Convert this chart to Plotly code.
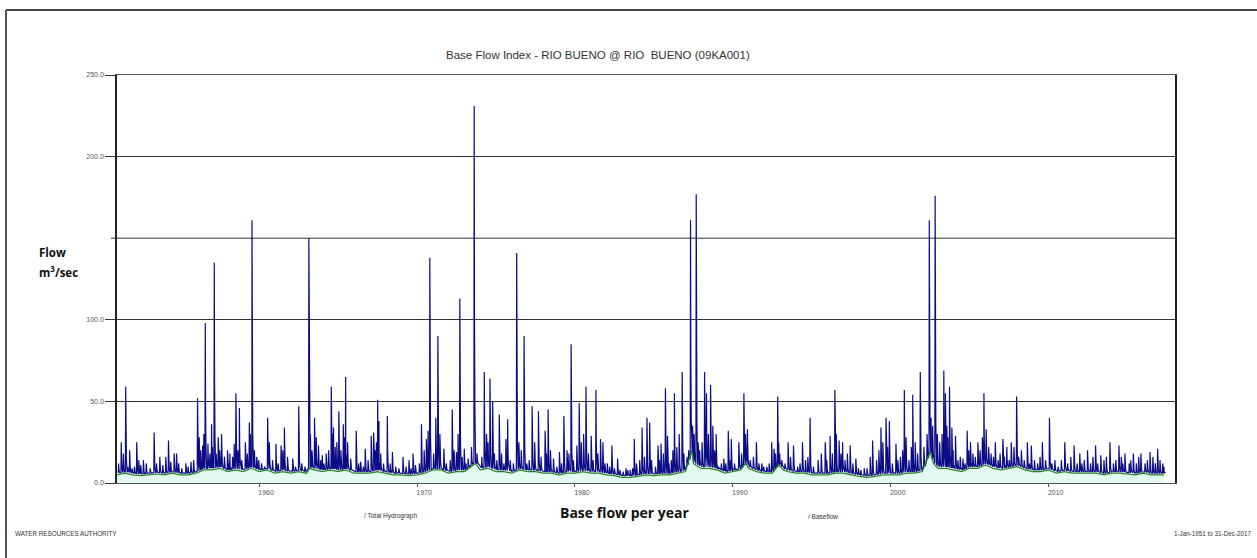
import numpy as np
import plotly.graph_objects as go

# ---- data (decimal years, m3/s) ----
peak_years = [
    1951.27, 1951.55, 1951.80, 1952.25, 1952.50, 1952.67, 1953.35, 1953.71, 1954.09, 1954.26,
    1954.62, 1954.77, 1955.36, 1955.68, 1956.10, 1956.21, 1956.42, 1956.59, 1956.76, 1956.99,
    1957.16, 1957.41, 1957.62, 1958.00, 1958.15, 1958.32, 1958.53, 1958.75, 1959.13, 1959.38,
    1959.55, 1959.97, 1960.54, 1961.07, 1961.39, 1961.60, 1962.13, 1962.51, 1963.15, 1963.51,
    1963.76, 1964.00, 1964.25, 1964.57, 1964.71, 1964.92, 1965.05, 1965.33, 1965.48, 1966.15,
    1966.43, 1966.72, 1967.10, 1967.25, 1967.51, 1967.59, 1968.12, 1968.44, 1969.11, 1969.49,
    1969.75, 1970.28, 1970.59, 1970.81, 1971.19, 1971.32, 1971.70, 1972.23, 1972.50, 1972.71,
    1972.99, 1973.24, 1973.62, 1974.26, 1974.62, 1974.79, 1975.21, 1975.63, 1975.74, 1976.31,
    1976.78, 1977.29, 1977.69, 1978.11, 1978.30, 1978.64, 1979.02, 1979.30, 1979.76, 1980.12,
    1980.27, 1980.70, 1981.03, 1981.33, 1981.62, 1981.77, 1982.34, 1982.70, 1983.23, 1983.50,
    1983.76, 1984.25, 1984.56, 1984.73, 1985.26, 1985.45, 1985.73, 1985.86, 1986.30, 1986.79,
    1987.32, 1987.68, 1988.21, 1988.33, 1988.59, 1988.73, 1988.94, 1989.27, 1989.43, 1989.71,
    1989.90, 1990.38, 1990.70, 1990.92, 1991.49, 1991.83, 1992.46, 1992.61, 1992.84, 1992.97,
    1993.50, 1993.84, 1994.41, 1994.89, 1995.40, 1995.85, 1996.16, 1996.46, 1996.73, 1996.95,
    1997.43, 1997.79, 1998.32, 1998.85, 1999.38, 1999.70, 1999.91, 2000.33, 2000.61, 2000.86,
    2000.97, 2001.39, 2001.87, 2002.44, 2002.81, 2003.36, 2003.46, 2003.72, 2003.87, 2004.10,
    2004.57, 2004.84, 2005.05, 2005.52, 2005.90, 2006.04, 2006.62, 2007.10, 2007.35, 2007.63,
    2007.97, 2008.27, 2008.65, 2008.90, 2009.60, 2010.05, 2010.39, 2011.02, 2011.61, 2011.97,
    2012.46, 2012.97, 2013.30, 2013.88, 2014.45, 2014.83, 2015.36, 2015.84, 2016.42, 2016.90,
    2017.22,
]
peak_flows = [
    25, 59, 20, 25, 11, 14, 31, 16, 16, 26,
    18, 18, 12, 13, 52, 28, 23, 98, 24, 36,
    135, 28, 30, 20, 18, 16, 55, 46, 25, 37,
    161, 14, 40, 24, 23, 34, 15, 47, 150, 40,
    23, 17, 18, 59, 34, 25, 44, 36, 65, 32,
    13, 21, 29, 31, 51, 38, 41, 19, 16, 14,
    18, 36, 27, 138, 40, 90, 21, 45, 19, 113,
    21, 15, 231, 68, 64, 50, 42, 27, 39, 141,
    90, 47, 44, 32, 45, 15, 19, 41, 85, 23,
    49, 59, 29, 57, 27, 25, 23, 15, 9, 8,
    27, 34, 40, 37, 23, 24, 58, 29, 55, 68,
    161, 177, 68, 55, 60, 35, 30, 12, 15, 32,
    27, 25, 55, 33, 25, 12, 25, 21, 53, 18,
    25, 23, 25, 40, 14, 25, 29, 57, 26, 25,
    23, 15, 9, 26, 34, 40, 38, 24, 16, 57,
    28, 54, 68, 161, 176, 69, 55, 59, 34, 29,
    15, 32, 25, 25, 55, 33, 25, 27, 22, 25,
    53, 20, 25, 23, 25, 40, 14, 25, 23, 18,
    20, 23, 17, 25, 23, 18, 18, 18, 19, 21,
    12,
]

# smaller freshets forming the dense band near the bottom
minor_years = [
    1951.10, 1951.40, 1951.68, 1951.95, 1952.10, 1952.38, 1952.85, 1953.10, 1953.50, 1953.90,
    1954.40, 1954.90, 1955.10, 1955.50, 1955.85, 1956.30, 1956.50, 1956.88, 1957.05, 1957.28,
    1957.50, 1957.80, 1958.08, 1958.42, 1958.65, 1958.90, 1959.25, 1959.45, 1959.70, 1959.85,
    1960.15, 1960.35, 1960.65, 1960.85, 1961.20, 1961.50, 1961.80, 1962.30, 1962.70, 1962.90,
    1963.25, 1963.35, 1963.62, 1963.90, 1964.10, 1964.40, 1964.65, 1964.82, 1965.18, 1965.40,
    1965.60, 1965.80, 1966.30, 1966.60, 1966.90, 1967.35, 1967.43, 1967.70, 1967.88, 1968.30,
    1968.65, 1968.85, 1969.30, 1969.62, 1969.90, 1970.15, 1970.45, 1970.70, 1971.05, 1971.45,
    1971.85, 1972.10, 1972.35, 1972.60, 1972.85, 1973.10, 1973.45, 1973.80, 1974.10, 1974.40,
    1974.50, 1974.90, 1975.05, 1975.35, 1975.50, 1975.90, 1976.10, 1976.45, 1976.60, 1976.95,
    1977.10, 1977.45, 1977.85, 1978.20, 1978.45, 1978.85, 1979.15, 1979.50, 1979.62, 1979.90,
    1980.40, 1980.55, 1980.85, 1981.15, 1981.45, 1981.90, 1982.05, 1982.20, 1982.50, 1982.85,
    1983.05, 1983.35, 1983.65, 1983.90, 1984.10, 1984.40, 1984.85, 1985.10, 1985.35, 1985.60,
    1985.95, 1986.10, 1986.20, 1986.45, 1986.60, 1986.90, 1987.10, 1987.20, 1987.45, 1987.55,
    1987.80, 1987.90, 1988.05, 1988.45, 1988.85, 1989.10, 1989.55, 1989.80, 1990.10, 1990.55,
    1990.80, 1991.10, 1991.30, 1991.65, 1991.95, 1992.15, 1992.30, 1992.70, 1992.90, 1993.10,
    1993.30, 1993.65, 1994.10, 1994.25, 1994.60, 1994.75, 1995.10, 1995.60, 1995.95, 1996.30,
    1996.55, 1996.85, 1997.10, 1997.25, 1997.60, 1997.95, 1998.10, 1998.50, 1998.70, 1999.10,
    1999.25, 1999.50, 1999.80, 2000.10, 2000.45, 2000.75, 2001.15, 2001.30, 2001.55, 2001.70,
    2002.10, 2002.30, 2002.55, 2002.65, 2002.95, 2003.10, 2003.25, 2003.55, 2003.62, 2003.95,
    2004.25, 2004.40, 2004.70, 2004.95, 2005.20, 2005.35, 2005.65, 2005.80, 2006.20, 2006.35,
    2006.50, 2006.80, 2006.92, 2007.20, 2007.50, 2007.80, 2008.10, 2008.45, 2008.78, 2009.10,
    2009.30, 2009.45, 2009.80, 2010.20, 2010.60, 2010.80, 2011.20, 2011.40, 2011.80, 2012.10,
    2012.25, 2012.65, 2012.80, 2013.10, 2013.50, 2013.65, 2014.10, 2014.25, 2014.60, 2014.70,
    2015.10, 2015.20, 2015.55, 2015.70, 2016.10, 2016.25, 2016.60, 2016.75, 2017.05, 2017.30,
]
minor_flows = [
    12, 18, 10, 9, 10, 14, 12, 9, 12, 11,
    13, 12, 9, 10, 14, 20, 30, 18, 22, 18,
    20, 16, 12, 24, 20, 14, 18, 30, 20, 16,
    12, 10, 25, 14, 12, 20, 16, 10, 12, 10,
    30, 20, 28, 14, 12, 20, 30, 22, 20, 28,
    25, 15, 12, 10, 14, 20, 25, 18, 12, 12,
    10, 9, 10, 9, 11, 12, 20, 32, 18, 30,
    12, 14, 20, 30, 16, 12, 22, 18, 16, 30,
    25, 18, 14, 18, 12, 14, 12, 25, 20, 12,
    14, 25, 16, 18, 20, 10, 12, 20, 18, 14,
    25, 30, 18, 14, 18, 12, 12, 10, 9, 8,
    7, 8, 9, 12, 14, 16, 14, 10, 14, 18,
    12, 14, 20, 22, 30, 18, 16, 20, 35, 30,
    25, 20, 25, 30, 20, 10, 12, 14, 12, 18,
    30, 14, 16, 12, 10, 10, 12, 18, 25, 14,
    12, 16, 10, 12, 14, 16, 10, 18, 14, 18,
    30, 18, 14, 18, 12, 9, 8, 9, 16, 14,
    20, 25, 22, 12, 14, 20, 14, 22, 25, 18,
    22, 30, 40, 35, 30, 25, 30, 35, 28, 20,
    14, 16, 12, 20, 18, 16, 20, 28, 22, 18,
    16, 14, 18, 16, 14, 22, 16, 14, 12, 14,
    12, 16, 14, 12, 10, 14, 12, 16, 12, 12,
    14, 12, 16, 12, 14, 16, 12, 14, 16, 12,
    12, 14, 12, 16, 12, 14, 16, 12, 14, 10,
]

base_years = [
    1951.0, 1951.5, 1952.0, 1952.5, 1953.0, 1953.5, 1954.0, 1954.5, 1955.0, 1955.5,
    1956.0, 1956.5, 1957.0, 1957.5, 1958.0, 1958.5, 1959.0, 1959.5, 1960.0, 1960.5,
    1961.0, 1961.5, 1962.0, 1962.5, 1963.0, 1963.2, 1963.5, 1964.0, 1964.5, 1965.0,
    1965.5, 1966.0, 1966.5, 1967.0, 1967.5, 1968.0, 1968.5, 1969.0, 1969.5, 1970.0,
    1970.5, 1971.0, 1971.5, 1972.0, 1972.5, 1973.0, 1973.7, 1974.0, 1974.5, 1975.0,
    1975.5, 1976.0, 1976.5, 1977.0, 1977.5, 1978.0, 1978.5, 1979.0, 1979.5, 1980.0,
    1980.5, 1981.0, 1981.5, 1982.0, 1982.5, 1983.0, 1983.5, 1984.0, 1984.5, 1985.0,
    1985.5, 1986.0, 1986.5, 1987.0, 1987.4, 1987.5, 1987.8, 1988.0, 1988.5, 1989.0,
    1989.5, 1990.0, 1990.5, 1990.8, 1991.0, 1991.5, 1992.0, 1992.5, 1992.9, 1993.2,
    1993.5, 1994.0, 1994.5, 1995.0, 1995.5, 1996.0, 1996.5, 1997.0, 1997.5, 1998.0,
    1998.5, 1999.0, 1999.5, 2000.0, 2000.5, 2001.0, 2001.5, 2002.0, 2002.5, 2002.7,
    2003.0, 2003.5, 2004.0, 2004.5, 2005.0, 2005.5, 2006.0, 2006.5, 2007.0, 2007.5,
    2008.0, 2008.5, 2009.0, 2009.5, 2010.0, 2010.5, 2011.0, 2011.5, 2012.0, 2012.5,
    2013.0, 2013.5, 2014.0, 2014.5, 2015.0, 2015.5, 2016.0, 2016.5, 2017.0, 2017.3,
]
base_flows = [
    5, 6, 5, 4.5, 5, 5.5, 5, 6, 5, 5,
    6, 8, 8, 9, 7, 8, 7, 9, 7, 8,
    6, 7, 6, 7, 6, 9, 8, 7, 8, 7,
    8, 6, 6, 6, 7, 6, 5, 5, 4.5, 5,
    6, 8, 8, 6, 7, 7, 12, 8, 9, 7,
    7, 6, 8, 7, 7, 6, 6, 5, 6, 6,
    7, 6, 6, 5, 4.5, 3.5, 3.5, 4, 5, 4.5,
    5, 5, 6, 7, 20, 12, 10, 9, 9, 8,
    6, 7, 8, 12, 9, 7, 6, 6, 11, 8,
    7, 6, 6, 5, 5, 5, 6, 6, 5, 4,
    3.5, 4, 5, 5, 5, 6, 6, 7, 19, 12,
    9, 9, 8, 7, 9, 9, 11, 9, 8, 9,
    10, 8, 7, 7, 8, 6, 7, 6, 6, 6,
    6, 5, 6, 6, 5.5, 5, 6, 5, 5, 5,
]

x_ticks = [1960, 1970, 1980, 1990, 2000, 2010]
x_tick_text = ["1960", "1970", "1980", "1990", "2000", "2010"]
y_ticks = [0, 50, 100, 200, 250]
y_tick_text = ["0.0", "50.0", "100.0", "200.0", "250.0"]
y_unlabelled_grid = [150]

# ---- build the hydrograph spikes on top of the baseflow ----
ev_t = np.array(peak_years + minor_years)
ev_v = np.array(peak_flows + minor_flows, dtype=float)
by = np.array(base_years)
bv = np.array(base_flows, dtype=float)

pts = []
for t, v in zip(ev_t, ev_v):
    b = float(np.interp(t, by, bv)) + 1.0
    pts += [(t - 0.02, b), (t, v), (t + 0.02, b + 0.4 * (v - b)),
            (t + 0.045, b + 0.15 * (v - b)), (t + 0.09, b)]
pts.sort(key=lambda p: p[0])
hx = [p[0] for p in pts]
hy = [p[1] for p in pts]

W, H = 1257, 558
L, R, T, B = 117, 1175, 75, 483


def xp(px):
    return (px - L) / (R - L)


def yp(pyy):
    return (B - pyy) / (B - T)


fig = go.Figure()
fig.add_trace(go.Scatter(
    x=by, y=bv, mode="lines", line=dict(width=0), fill="tozeroy",
    fillcolor="rgba(175,240,215,0.35)", hoverinfo="skip", showlegend=False))
fig.add_trace(go.Scatter(
    x=hx, y=hy, mode="lines", name="Total Hydrograph",
    line=dict(color="#0c0c86", width=1.2), showlegend=False))
fig.add_trace(go.Scatter(
    x=by, y=bv, mode="lines", name="Baseflow",
    line=dict(color="#238523", width=1.2), showlegend=False))

ann = []


def txt(text, px, pyy, size, xanchor="left", bold=False, family="Liberation Sans, Arial", color="#333"):
    ann.append(dict(text=("<b>%s</b>" % text) if bold else text, x=xp(px), y=yp(pyy),
                    xref="paper", yref="paper", xanchor=xanchor, yanchor="middle",
                    showarrow=False, font=dict(size=size, family=family, color=color)))


txt("Base Flow Index - RIO BUENO @ RIO&nbsp; BUENO (09KA001)", 598, 55, 11.5, "center")
txt("Flow", 37, 252, 11.5, bold=True, family="Open Sans", color="#111")
txt("m<sup>3</sup>/sec", 37, 271, 11.5, bold=True, family="Open Sans", color="#111")
txt("Base flow per year", 625, 512, 14, "center", bold=True, family="Open Sans", color="#111")
txt("/ Total Hydrograph", 362, 516, 6.5)
txt("/ Baseflow", 806, 516, 6.5)
txt("WATER RESOURCES AUTHORITY", 13, 533, 6.3)
txt("1-Jan-1951 to 31-Dec-2017", 1254, 533, 6.3, "right")

shapes = [
    dict(type="line", xref="paper", yref="paper", x0=xp(6), x1=xp(1257), y0=yp(10), y1=yp(10),
         line=dict(color="#444", width=2)),
    dict(type="line", xref="paper", yref="paper", x0=xp(6), x1=xp(6), y0=yp(10), y1=yp(560),
         line=dict(color="#555", width=2)),
]
for g in y_unlabelled_grid:
    shapes.append(dict(type="line", xref="paper", yref="y", x0=xp(111), x1=1, y0=g, y1=g,
                       line=dict(color="#333", width=1), layer="below"))

fig.update_layout(
    width=W, height=H,
    margin=dict(l=L, r=W - R, t=T, b=H - B),
    paper_bgcolor="white", plot_bgcolor="white",
    annotations=ann, shapes=shapes,
    showlegend=False,
    xaxis=dict(range=[1951, 2018], tickvals=x_ticks, ticktext=x_tick_text,
               showgrid=False, zeroline=False, showline=True, linecolor="#555", linewidth=1,
               mirror=True, ticks="outside", ticklen=3, tickcolor="#555",
               tickfont=dict(size=7, family="Liberation Sans, Arial", color="#555"),
               ticklabelshift=7),
    yaxis=dict(range=[0, 250], tickvals=y_ticks, ticktext=y_tick_text,
               showgrid=True, gridcolor="#333", gridwidth=1, zeroline=False,
               showline=True, linecolor="#222", linewidth=1.5, mirror=True,
               ticks="outside", ticklen=10, tickcolor="#333",
               tickfont=dict(size=7, family="Liberation Sans, Arial", color="#555")),
)

fig.write_html("out.html", config={"displayModeBar": False},
               post_script="document.body.style.margin='0px';")
